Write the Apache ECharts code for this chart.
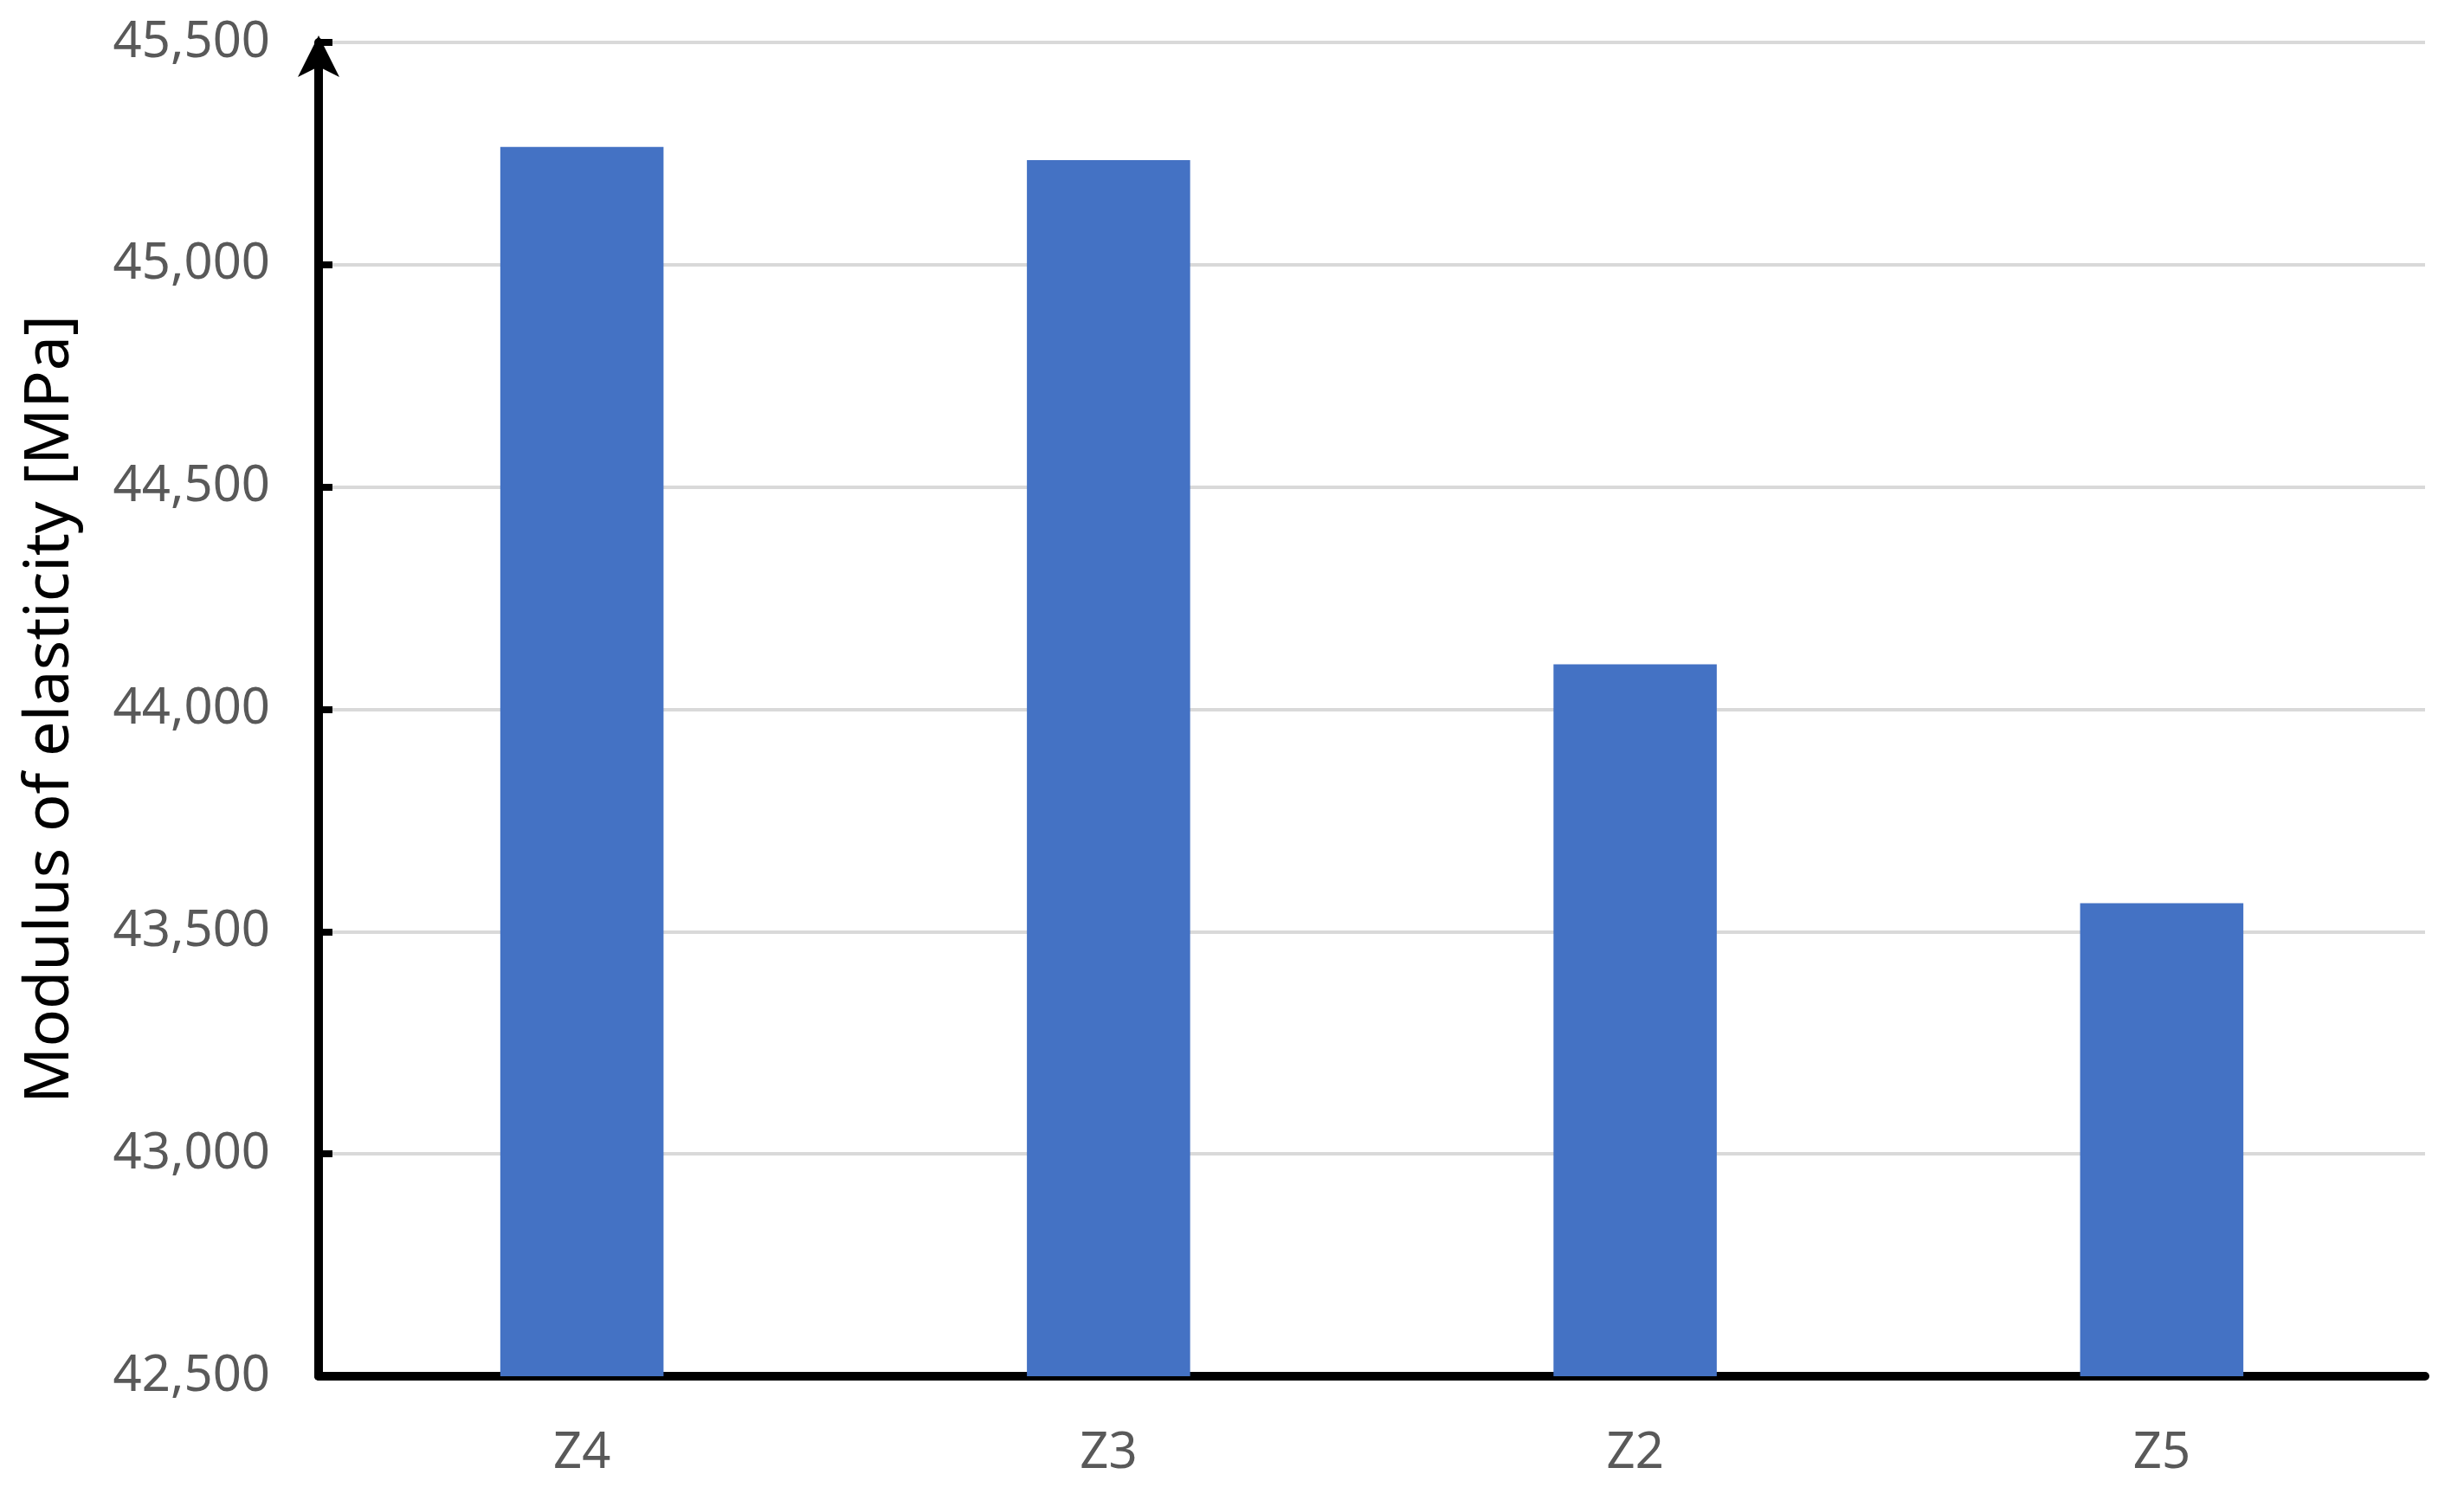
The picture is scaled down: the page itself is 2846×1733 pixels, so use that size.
<!DOCTYPE html>
<html>
<head>
<meta charset="utf-8">
<script src="https://cdn.jsdelivr.net/npm/echarts/dist/echarts.min.js"></script>
<style>
  html, body { margin: 0; padding: 0; background: #fff; }
  #chart { width: 2846px; height: 1733px; }
</style>
</head>
<body>
<div id="chart"></div>
<script>
// data
const categories = ['Z4', 'Z3', 'Z2', 'Z5'];
const modulus = [45265, 45235, 44101, 43564];
const yMin = 42500;
const yMax = 45500;
const yStep = 500;

const chart = echarts.init(document.getElementById('chart'));

const option = {
  backgroundColor: '#FFFFFF',
  animation: false,
  grid: {
    left: 368,
    right: 45,
    top: 49,
    bottom: 143
  },
  xAxis: {
    type: 'category',
    data: categories,
    axisLine: {
      lineStyle: { color: '#000', width: 10 }
    },
    axisTick: { show: false },
    axisLabel: {
      margin: 60,
      fontFamily: 'Noto Sans',
      fontSize: 58,
      color: '#595959'
    }
  },
  yAxis: {
    type: 'value',
    min: yMin,
    max: yMax,
    interval: yStep,
    name: 'Modulus of elasticity [MPa]',
    nameLocation: 'middle',
    nameRotate: 90,
    nameGap: 274,
    nameTextStyle: {
      fontFamily: 'Noto Sans',
      fontSize: 72,
      color: '#000'
    },
    axisLine: {
      show: true,
      symbol: ['none', 'arrow'],
      symbolSize: [36, 48],
      symbolOffset: [0, 8],
      lineStyle: { color: '#000', width: 10 }
    },
    axisTick: {
      show: true,
      inside: true,
      length: 16,
      lineStyle: { color: '#000', width: 8 }
    },
    axisLabel: {
      margin: 56,
      fontFamily: 'Noto Sans',
      fontSize: 58,
      color: '#595959',
      formatter: v => v.toLocaleString('en-US')
    },
    splitLine: {
      lineStyle: { color: '#D9D9D9', width: 4 }
    }
  },
  series: [
    {
      type: 'bar',
      data: modulus,
      barWidth: '31%',
      itemStyle: { color: '#4472C4' }
    }
  ]
};

chart.setOption(option);
</script>
</body>
</html>
